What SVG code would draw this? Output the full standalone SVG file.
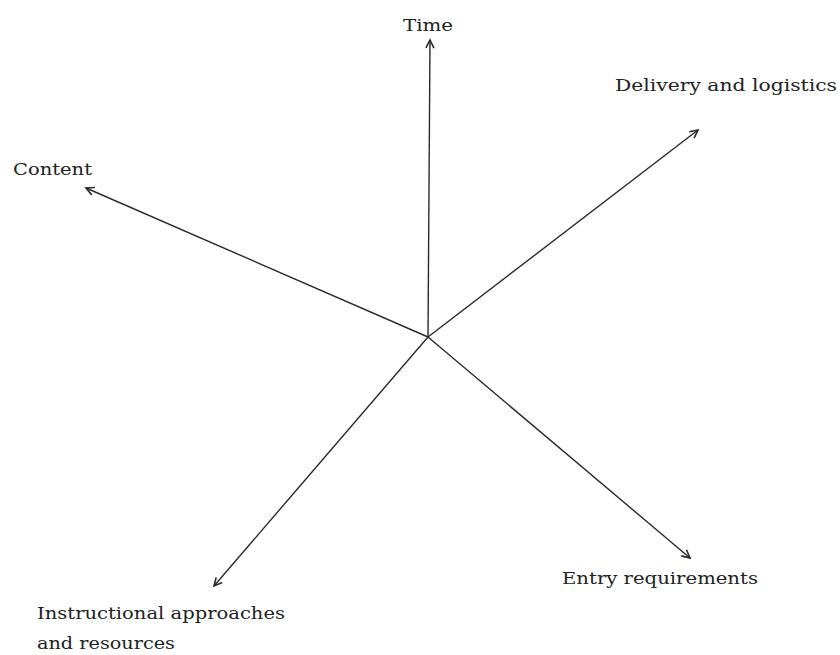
<svg xmlns="http://www.w3.org/2000/svg" width="840" height="655" viewBox="0 0 840 655">
<style>
.lbl{font-family:"DejaVu Serif","Liberation Serif",serif;font-size:17px;fill:#222}
.ax{stroke:#2a2a2a;stroke-width:1.4;fill:none;marker-end:url(#ah)}
</style>
<defs>
<marker id="ah" markerUnits="userSpaceOnUse" markerWidth="12" markerHeight="12" viewBox="0 0 12 12" refX="10" refY="6" orient="auto">
<path d="M2,2 L10,6 L2,10" fill="none" stroke="#2a2a2a" stroke-width="1.6"/>
</marker>
</defs>
<rect width="840" height="655" fill="#fff"/>
<g id="connectors">
<line class="ax" x1="428" y1="337" x2="430" y2="40"/>
<line class="ax" x1="428" y1="337" x2="698" y2="130"/>
<line class="ax" x1="428" y1="337" x2="86" y2="188"/>
<line class="ax" x1="428" y1="337" x2="214" y2="586"/>
<line class="ax" x1="428" y1="337" x2="690" y2="558"/>
</g>
<g id="time"><text class="lbl" x="403" y="31" textLength="50" lengthAdjust="spacingAndGlyphs">Time</text></g>
<g id="delivery"><text class="lbl" x="615" y="91" textLength="222" lengthAdjust="spacingAndGlyphs">Delivery and logistics</text></g>
<g id="content"><text class="lbl" x="13" y="175" textLength="79" lengthAdjust="spacingAndGlyphs">Content</text></g>
<g id="instructional"><text class="lbl" x="37" y="619" textLength="248" lengthAdjust="spacingAndGlyphs">Instructional approaches</text><text class="lbl" x="37" y="649" textLength="138" lengthAdjust="spacingAndGlyphs">and resources</text></g>
<g id="entry"><text class="lbl" x="562" y="584" textLength="196" lengthAdjust="spacingAndGlyphs">Entry requirements</text></g>
</svg>
